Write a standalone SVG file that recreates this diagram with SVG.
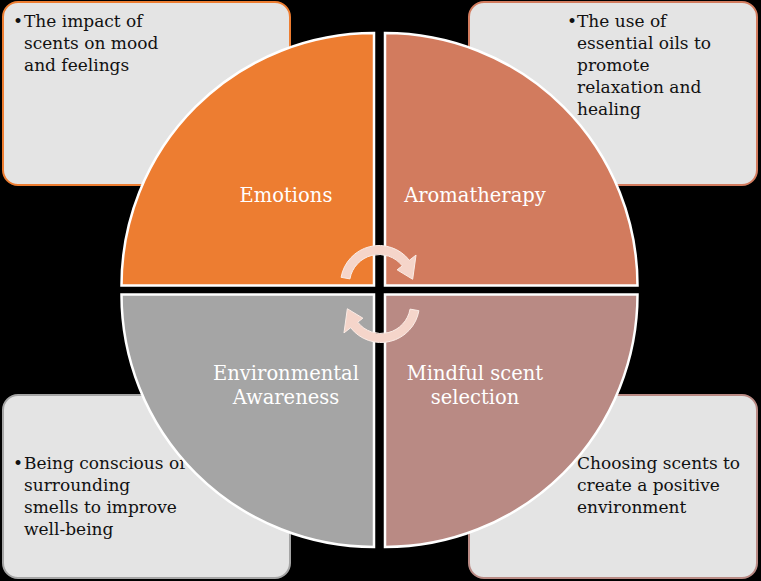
<svg xmlns="http://www.w3.org/2000/svg" width="761" height="581" viewBox="0 0 761 581">
  <style>
    .box { fill: #E4E4E4; stroke-width: 2; }
    .body { font-family: "DejaVu Serif", "Liberation Serif", serif; font-size: 17px; fill: #111; }
    .quad { stroke: #FFFFFF; stroke-width: 2.5; }
    .label { font-family: "DejaVu Serif", "Liberation Serif", serif; font-size: 19.5px; fill: #FFFFFF; text-anchor: middle; }
    .cyc { fill: #F5D5CA; stroke: #FBECE6; stroke-width: 1; }
  </style>
  <rect x="0" y="0" width="761" height="581" fill="#000000"/>

  <g id="box-emotions">
    <rect class="box" x="3" y="2" width="287" height="183" rx="15" ry="15" stroke="#ED7D31"/>
    <text class="body"><tspan x="13" y="27">•</tspan><tspan x="24" y="27">The impact of</tspan><tspan x="24" y="49">scents on mood</tspan><tspan x="24" y="71">and feelings</tspan></text>
  </g>
  <g id="box-aromatherapy">
    <rect class="box" x="469" y="2" width="288" height="183" rx="15" ry="15" stroke="#D27B5E"/>
    <text class="body"><tspan x="567" y="27">•</tspan><tspan x="577" y="27">The use of</tspan><tspan x="577" y="49">essential oils to</tspan><tspan x="577" y="71">promote</tspan><tspan x="577" y="93">relaxation and</tspan><tspan x="577" y="115">healing</tspan></text>
  </g>
  <g id="box-environmental">
    <rect class="box" x="3" y="395" width="287" height="183" rx="15" ry="15" stroke="#A5A5A5"/>
    <text class="body"><tspan x="13" y="469">•</tspan><tspan x="24" y="469">Being conscious of</tspan><tspan x="24" y="491">surrounding</tspan><tspan x="24" y="513">smells to improve</tspan><tspan x="24" y="535">well-being</tspan></text>
  </g>
  <g id="box-mindful">
    <rect class="box" x="469" y="395" width="288" height="183" rx="15" ry="15" stroke="#B98A84"/>
    <text class="body"><tspan x="577" y="469">Choosing scents to</tspan><tspan x="577" y="491">create a positive</tspan><tspan x="577" y="513">environment</tspan></text>
  </g>

  <g id="quad-emotions">
    <path class="quad" fill="#ED7D31" d="M374,285.5 L121.5,285.5 A252.5,252.5 0 0 1 374,33 Z"/>
    <text class="label" x="286" y="202">Emotions</text>
  </g>
  <g id="quad-aromatherapy">
    <path class="quad" fill="#D27B5E" d="M385,285.5 L385,33 A252.5,252.5 0 0 1 637.5,285.5 Z"/>
    <text class="label" x="475" y="202">Aromatherapy</text>
  </g>
  <g id="quad-environmental">
    <path class="quad" fill="#A5A5A5" d="M374,294.5 L374,547 A252.5,252.5 0 0 1 121.5,294.5 Z"/>
    <text class="label"><tspan x="286" y="380">Environmental</tspan><tspan x="286" y="404">Awareness</tspan></text>
  </g>
  <g id="quad-mindful">
    <path class="quad" fill="#B98A84" d="M385,294.5 L637.5,294.5 A252.5,252.5 0 0 1 385,547 Z"/>
    <text class="label"><tspan x="475" y="380">Mindful scent</tspan><tspan x="475" y="404">selection</tspan></text>
  </g>

  <g id="connectors">
    <path class="cyc" d="M341.09,277.32 A38.5,38.5 0 0 1 409.34,260.30 L416.04,255.06 L412.67,279.27 L397.12,269.84 L402.25,265.84 A29.5,29.5 0 0 0 349.95,278.88 Z"/>
    <path class="cyc" transform="rotate(180 380 294)" d="M341.09,277.32 A38.5,38.5 0 0 1 409.34,260.30 L416.04,255.06 L412.67,279.27 L397.12,269.84 L402.25,265.84 A29.5,29.5 0 0 0 349.95,278.88 Z"/>
  </g>
</svg>
